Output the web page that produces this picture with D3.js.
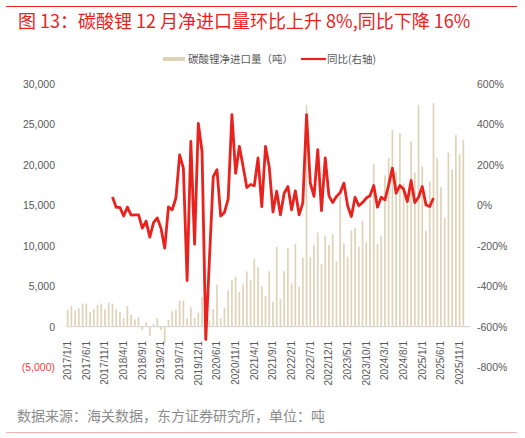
<!DOCTYPE html>
<html>
<head>
<meta charset="utf-8">
<script src="https://cdn.jsdelivr.net/npm/d3@7"></script>
<style>
  body { margin: 0; background: #fff; }
  text { font-family: "Liberation Sans", Arial, "Noto Sans CJK SC", sans-serif; }
  .cjk { font-family: "Noto Sans CJK SC", sans-serif; }
</style>
</head>
<body>
<div id="chart"></div>
<script>
// net import volume, tonnes (Jan 2017 - Dec 2025, Jan 2020 merged into Feb)
var netImport = [
  2060, 2560, 1980, 2300, 2850, 2850, 1810, 2150, 2680, 2850, 2150, 2930,
  2850, 2150, 1810, 1050, 2560, 1490, 900, 1200, -420, 530, -1150, 330,
  1050, -420, -2000, 850, 1900, 2060, 3220, 3220, 1030, 2390, 1070, 1730,
  3650, 400, 800, 2190, 5200, 990, 2350, 4500, 5780, 6190, 4290,
  5200, 6810, 5780, 8380, 7340, 5000, 3800, 6850, 3090, 9860, 3420, 6850,
  9740, 5360, 10230, 4950, 8500, 27430, 8580, 10110, 11630, 7760, 11260, 10110,
  11430, 8040, 16090, 10310, 8660, 11880, 12210, 9900, 13100, 10440, 15700, 20090,
  10230, 11220, 18730, 20830, 24340, 19140, 23930, 17700, 15700, 22900, 19060, 27430,
  19800, 11840, 17950, 27640, 20830, 17240, 13490, 21530, 19390, 23680, 21330, 23060
];

// YoY %, starts 2018/1 (index 12), ends 2025/4
var yoyStart = 12;
var yoy = [
  41, -10, -10, -53, -9, -48, -47, -47, -113, -78, -157, -86,
  -62, -113, -212, -8, -22, 36, 250, 184, -372, 316, -192, 405,
  266, -663, -260, 142, 176, -53, -35, 32, 448, 158, 291,
  192, 88, 103, 97, 234, -6, 291, 190, -33, 70, -47, 60,
  93, -22, 72, -47, 12, 448, 110, 44, 275, -26, 234, 47,
  14, 44, 62, 110, -2, -55, 40, -2, 14, 36, 47, 98,
  -9, 40, 27, 101, 184, 60, 98, 80, 19, 123, 14, 40,
  93, 2, -6, 36
];

var tickLabels = ["2017/1/1", "2017/6/1", "2017/11/1", "2018/4/1", "2018/9/1", "2019/2/1",
  "2019/7/1", "2019/12/1", "2020/6/1", "2020/11/1", "2021/4/1", "2021/9/1", "2022/2/1",
  "2022/7/1", "2022/12/1", "2023/5/1", "2023/10/1", "2024/3/1", "2024/8/1", "2025/1/1",
  "2025/6/1", "2025/11/1"];

var leftTicks = [-5000, 0, 5000, 10000, 15000, 20000, 25000, 30000];
var rightTicks = [-800, -600, -400, -200, 0, 200, 400, 600];

// month categories
var months = [];
for (var yr = 2017; yr <= 2025; yr++) {
  for (var m = 1; m <= 12; m++) {
    if (yr === 2020 && m === 1) continue;
    months.push(yr + "/" + m + "/1");
  }
}

var data = months.map(function(d, i) {
  var j = i - yoyStart;
  return {
    month: d,
    value: netImport[i],
    yoy: (j >= 0 && j < yoy.length) ? yoy[j] : null
  };
});

var svgWidth = 525;
var svgHeight = 438;

var svg = d3.select("#chart")
  .append("svg")
  .attr("width", svgWidth)
  .attr("height", svgHeight);

// top rule and title
svg.append("line")
  .attr("x1", 6).attr("x2", 517)
  .attr("y1", 6.5).attr("y2", 6.5)
  .attr("stroke", "#E8231E")
  .attr("stroke-width", 1);

svg.append("text")
  .attr("class", "cjk")
  .attr("x", 18)
  .attr("y", 27.5)
  .attr("fill", "#E8231E")
  .style("font-size", "18px")
  .text("图 13：碳酸锂 12 月净进口量环比上升 8%,同比下降 16%");

// scales
var x = d3.scaleBand()
  .domain(months)
  .range([65.8, 465.2])
  .paddingInner(0.55)
  .paddingOuter(0.275);

var yLeft = d3.scaleLinear()
  .domain([-5000, 30000])
  .range([367.1, 84]);

var yRight = d3.scaleLinear()
  .domain([-800, 600])
  .range([367.1, 84]);

// left axis labels
var leftAxis = d3.axisLeft(yLeft)
  .tickValues(leftTicks)
  .tickSize(0)
  .tickPadding(0)
  .tickFormat(function(d) {
    return d < 0 ? "(" + d3.format(",")(-d) + ")" : d3.format(",")(d);
  });

var gLeft = svg.append("g")
  .attr("transform", "translate(55,0)")
  .call(leftAxis);
gLeft.select(".domain").remove();
gLeft.selectAll("text")
  .style("font-size", "10.5px")
  .attr("fill", function(d) { return d < 0 ? "#F03C3C" : "#595959"; });

// right axis labels
var rightAxis = d3.axisRight(yRight)
  .tickValues(rightTicks)
  .tickSize(0)
  .tickPadding(0)
  .tickFormat(function(d) { return d + "%"; });

var gRight = svg.append("g")
  .attr("transform", "translate(477,0)")
  .call(rightAxis);
gRight.select(".domain").remove();
gRight.selectAll("text")
  .style("font-size", "10.5px")
  .attr("fill", "#595959");

// bars
svg.append("g")
  .selectAll("rect")
  .data(data)
  .enter()
  .append("rect")
  .attr("x", d => x(d.month))
  .attr("width", x.bandwidth())
  .attr("y", d => yLeft(Math.max(0, d.value)))
  .attr("height", d => Math.abs(yLeft(d.value) - yLeft(0)))
  .attr("fill", "#DFD3B7");

// zero axis line
svg.append("line")
  .attr("x1", 65.8).attr("x2", 470)
  .attr("y1", yLeft(0)).attr("y2", yLeft(0))
  .attr("stroke", "#D9D9D9")
  .attr("stroke-width", 1.2);

// x labels
var bottomAxis = d3.axisBottom(x)
  .tickValues(tickLabels)
  .tickSize(0)
  .tickPadding(0);

var gBottom = svg.append("g")
  .attr("transform", "translate(0,341)")
  .call(bottomAxis);
gBottom.select(".domain").remove();
gBottom.selectAll("text")
  .attr("transform", "rotate(-90)")
  .attr("text-anchor", "end")
  .attr("x", 0)
  .attr("y", 0)
  .attr("dy", "0.35em")
  .style("font-size", "10px")
  .attr("fill", "#595959");

// yoy line
var line = d3.line()
  .defined(d => d.yoy !== null)
  .x(d => x(d.month) + x.bandwidth() / 2)
  .y(d => yRight(d.yoy));

svg.append("path")
  .datum(data)
  .attr("fill", "none")
  .attr("stroke", "#E8231E")
  .attr("stroke-width", 2.8)
  .attr("stroke-linejoin", "round")
  .attr("d", line);

// legend
var legend = svg.append("g");
legend.append("rect")
  .attr("x", 163).attr("y", 57)
  .attr("width", 22).attr("height", 4)
  .attr("fill", "#DFD3B7");
legend.append("text")
  .attr("class", "cjk")
  .attr("x", 188).attr("y", 59)
  .attr("dy", "0.35em")
  .style("font-size", "10.5px")
  .attr("fill", "#595959")
  .text("碳酸锂净进口量（吨）");
legend.append("line")
  .attr("x1", 301).attr("x2", 326)
  .attr("y1", 59).attr("y2", 59)
  .attr("stroke", "#E8231E")
  .attr("stroke-width", 2.2);
legend.append("text")
  .attr("class", "cjk")
  .attr("x", 327).attr("y", 59)
  .attr("dy", "0.35em")
  .style("font-size", "10.5px")
  .attr("fill", "#595959")
  .text("同比(右轴)");

// footer
svg.append("text")
  .attr("class", "cjk")
  .attr("x", 17)
  .attr("y", 421)
  .style("font-size", "14px")
  .attr("fill", "#8C8C8C")
  .text("数据来源：海关数据，东方证券研究所，单位：吨");

svg.append("line")
  .attr("x1", 6).attr("x2", 517)
  .attr("y1", 432.5).attr("y2", 432.5)
  .attr("stroke", "#F4B4AE")
  .attr("stroke-width", 1);
</script>
</body>
</html>
